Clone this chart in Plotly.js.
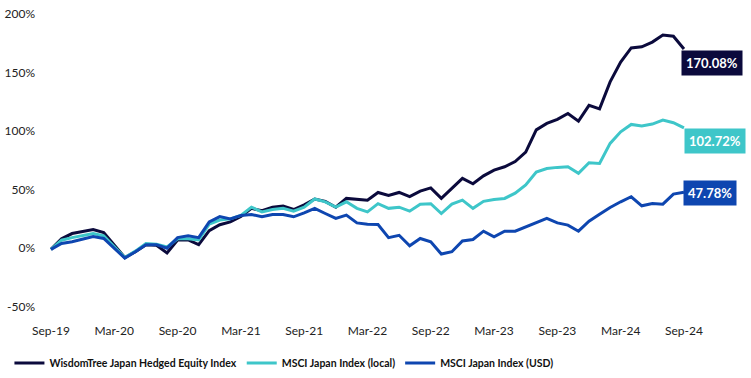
<!DOCTYPE html>
<html>
<head>
<meta charset="utf-8">
<script src="https://cdn.plot.ly/plotly-3.0.1.min.js"></script>
<style>html,body{margin:0;padding:0;background:#fff;}#chart{width:751px;height:378px;}</style>
</head>
<body>
<div id="chart"></div>
<script>
const months = ["Sep-19","Oct-19","Nov-19","Dec-19","Jan-20","Feb-20","Mar-20","Apr-20","May-20","Jun-20","Jul-20","Aug-20",
"Sep-20","Oct-20","Nov-20","Dec-20","Jan-21","Feb-21","Mar-21","Apr-21","May-21","Jun-21","Jul-21","Aug-21",
"Sep-21","Oct-21","Nov-21","Dec-21","Jan-22","Feb-22","Mar-22","Apr-22","May-22","Jun-22","Jul-22","Aug-22",
"Sep-22","Oct-22","Nov-22","Dec-22","Jan-23","Feb-23","Mar-23","Apr-23","May-23","Jun-23","Jul-23","Aug-23",
"Sep-23","Oct-23","Nov-23","Dec-23","Jan-24","Feb-24","Mar-24","Apr-24","May-24","Jun-24","Jul-24","Aug-24","Sep-24"];

const tickLabels = ["Sep-19","Mar-20","Sep-20","Mar-21","Sep-21","Mar-22","Sep-22","Mar-23","Sep-23","Mar-24","Sep-24"];
const yTickVals = [-50,0,50,100,150,200];
const yTickText = ["-50%","0%","50%","100%","150%","200%"];

const wisdomTree = [-1,8,12.5,14.5,16,13.4,2.6,-8,-3,3,2.5,-4,7,7,3,15,20,22.5,27,34,
32,35,36,33,37,42,40,35,42.5,42,41,47.6,45,47.6,44,48.7,51.5,42.5,51,59.6,55,61.8,66.7,
69.5,74,82,101,106.5,110,115,108.5,122,119,142,159,171,172,176,182,181,170.08];

const msciLocal = [-1,6.8,9,11,12.5,10.5,1,-8,-2.5,4,3.4,1,8,8,7,20.5,24,25,28,35,
31,33,34,31.6,35,42,39.6,35,39.6,34,31,38,34,35,31.6,37.6,38,29.6,37.6,41,34,40,41.6,
42.5,47,54,65,68,69,69.5,64,73,72.4,89.5,99.4,105.7,104.3,106,109.4,107.1,102.72];

const msciUSD = [-1,4,5.5,7.5,10,8.3,0,-8.5,-3,3,3,0,9,10.5,9,22.5,27,25,28,28.8,
26.8,28.8,28.8,26.8,30.2,34,29.6,25.4,28.2,21.6,20.5,20.2,9,11,2,8.3,5.4,-5,-3,6.2,7.4,14.5,9.7,
14.5,14.5,18,21.6,25.4,21.6,19.7,14.5,23,29,34.8,39.6,43.9,36.2,38.2,37.6,46.2,47.78];

const seriesNames = ["WisdomTree Japan Hedged Equity Index","MSCI Japan Index (local)","MSCI Japan Index (USD)"];
const endLabels = ["170.08%","102.72%","47.78%"];

const colors = ["#0b0a3c","#3ec6c9","#0e46b0"];
const seriesData = [wisdomTree, msciLocal, msciUSD];
const labelShift = [[-3,-14],[0,-13],[-1,-1]];

const traces = seriesData.map((d,k)=>({
  x: months, y: d, type:'scatter', mode:'lines', name: seriesNames[k],
  line:{color:colors[k], width:3}, hoverinfo:'skip'
}));

const last = months[months.length-1];
const annotations = seriesData.map((d,k)=>({
  x: last, y: d[d.length-1], xref:'x', yref:'y', xanchor:'left', yanchor:'middle',
  xshift: labelShift[k][0], yshift: labelShift[k][1], showarrow:false,
  text: '<b>'+endLabels[k]+'</b>', bgcolor: colors[k], borderpad:4,
  font:{family:'Lato, sans-serif', size:13, color:'#ffffff'}
}));

const layout = {
  width:751, height:378,
  margin:{l:36, r:51, t:10, b:68, autoexpand:false},
  paper_bgcolor:'#ffffff', plot_bgcolor:'#ffffff',
  font:{family:'Lato, sans-serif', size:12, color:'#222222'},
  showlegend:true,
  legend:{orientation:'h', x:-0.04, xanchor:'left', y:-0.177, yanchor:'middle',
    font:{family:'Lato, sans-serif', size:10.5, color:'#111111', weight:'bold'},
    itemwidth:30, traceorder:'normal'},
  xaxis:{type:'category', range:[-1.42, 61.52], showgrid:false, zeroline:false, showline:false,
    tickmode:'array', tickvals: tickLabels, ticktext: tickLabels,
    ticks:'outside', ticklen:10, tickcolor:'rgba(0,0,0,0)', tickfont:{size:12, color:'#222'}},
  yaxis:{range:[-52.8, 203.4], showgrid:false, zeroline:false, showline:false,
    tickmode:'array', tickvals: yTickVals, ticktext: yTickText,
    tickfont:{size:12, color:'#222'}},
  annotations: annotations
};

Plotly.newPlot('chart', traces, layout, {displayModeBar:false, staticPlot:true});
</script>
</body>
</html>
